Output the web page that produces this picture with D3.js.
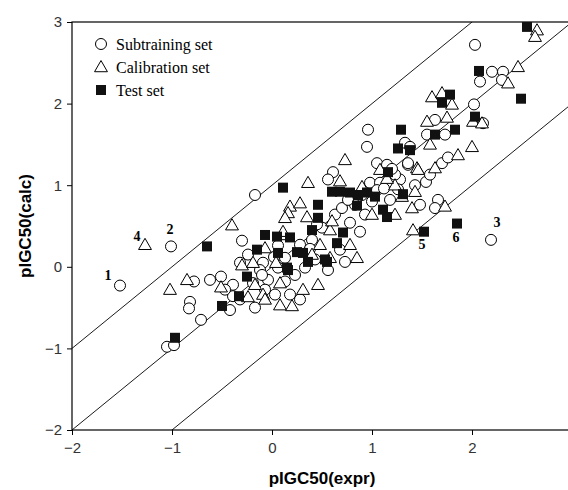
<!DOCTYPE html>
<html lang="en">
<head>
<meta charset="UTF-8" />
<title>pIGC50 calc vs expr</title>
<style>
  body { margin: 0; background: #fff; }
  svg { display: block; }
</style>
</head>
<body>
<div id="chart"></div>
<script src="https://cdn.jsdelivr.net/npm/d3@7/dist/d3.min.js"></script>
<script>
// Subtraining set (circles): [expr, calc]
var subtraining = [
  [-1.52,-0.23],[-1.01,0.25],[2.19,0.33],[-1.05,-0.98],[-0.98,-0.96],[-0.17,0.88],
  [-0.30,0.32],[-0.78,-0.18],[-0.62,-0.16],[-0.51,-0.12],[-0.82,-0.43],[-0.83,-0.51],
  [-0.71,-0.65],[-0.39,-0.36],[-0.17,-0.50],[-0.39,-0.22],[-0.32,0.05],[-0.09,0.05],
  [-0.04,-0.16],[-0.19,-0.20],[0.96,1.68],[0.95,1.47],[0.61,1.16],[0.56,1.07],
  [0.78,0.54],[0.73,0.06],[0.56,-0.04],[1.05,1.27],[1.15,1.25],[1.36,1.25],
  [0.98,1.03],[1.08,1.03],[1.05,0.94],[1.28,1.07],[2.03,2.72],[2.20,2.39],
  [2.31,2.39],[2.08,2.27],[2.30,2.29],[2.02,1.99],[2.11,1.76],[1.63,1.80],
  [1.55,1.62],[1.73,1.62],[1.33,1.52],[1.38,1.47],[1.36,1.27],[1.70,1.27],
  [1.76,1.34],[1.54,1.04],[1.66,0.82],[1.63,0.72],[-0.07,-0.28],[0.03,-0.34],
  [0.13,-0.18],[0.23,-0.10],[0.33,-0.01],[0.43,0.09],[0.28,0.27],[0.40,0.33],
  [0.50,0.48],[0.63,0.64],[0.83,0.76],[0.90,0.88],[1.18,0.82],[1.23,1.13],
  [1.43,1.00],[1.48,0.76],[0.13,0.11],[0.06,-0.01],[-0.12,-0.04],[-0.24,0.15],
  [0.18,-0.34],[0.28,-0.40],[0.68,0.21],[0.88,0.43],[0.93,0.64],[-0.42,-0.53],
  [-0.32,-0.40],[-0.47,-0.28],[1.58,1.13],[0.45,0.52],[0.70,0.72],[0.76,0.82],
  [1.12,0.96],[1.20,1.20],[0.02,0.12],[0.06,0.26],[-0.10,-0.10],[0.38,0.22],
  [1.00,0.80],[1.26,0.95]
];

// Calibration set (triangles)
var calibration = [
  [-1.27,0.27],[1.41,0.45],[-0.40,0.51],[-1.02,-0.28],[-0.85,-0.16],[-0.51,-0.25],
  [-0.24,-0.37],[-0.30,0.02],[-0.19,0.05],[-0.09,-0.34],[0.08,-0.20],[0.11,0.39],
  [0.73,1.31],[0.68,1.05],[0.36,1.03],[0.18,0.74],[0.28,0.78],[0.35,0.61],
  [0.11,0.43],[0.16,0.66],[0.85,0.11],[0.13,0.60],[1.45,1.21],[1.43,0.92],
  [1.40,0.72],[2.65,2.90],[2.63,2.82],[2.46,2.45],[2.36,2.25],[1.60,2.08],
  [1.70,2.13],[1.80,1.99],[2.01,1.78],[2.10,1.76],[1.55,1.78],[1.75,1.83],
  [1.58,1.50],[2.00,1.47],[1.46,1.19],[1.63,1.21],[1.86,1.37],[1.73,0.74],
  [1.30,0.86],[-0.07,-0.40],[0.08,-0.47],[0.20,-0.48],[0.31,-0.28],[0.46,-0.22],
  [0.58,0.11],[0.48,0.27],[0.78,0.27],[1.00,0.64],[1.23,0.64],[-0.17,-0.22],
  [-0.07,0.23],[0.58,0.45],[1.23,1.00],[1.08,1.19],[0.60,0.56],[0.90,0.98],
  [0.40,0.15],[0.04,0.05],[1.15,1.08]
];

// Test set (filled squares)
var testSet = [
  [1.52,0.43],[1.85,0.53],[-0.97,-0.87],[-0.65,0.25],[-0.15,0.21],[-0.50,-0.48],
  [-0.33,-0.36],[-0.25,-0.12],[-0.07,0.39],[0.05,0.37],[0.06,0.17],[0.15,-0.01],
  [0.11,0.97],[0.60,0.92],[0.68,0.92],[0.78,0.91],[0.86,0.88],[0.95,0.91],
  [1.03,0.86],[0.46,0.76],[0.46,0.60],[0.25,0.18],[0.31,0.17],[0.36,0.06],
  [0.55,0.06],[0.65,0.29],[0.71,0.42],[0.16,-0.04],[1.11,0.70],[1.15,0.61],
  [1.16,1.16],[1.26,1.45],[1.38,1.43],[2.55,2.94],[2.07,2.40],[2.49,2.06],
  [1.78,2.11],[1.70,2.01],[2.03,1.84],[1.29,1.68],[1.63,1.62],[1.83,1.68],
  [1.31,0.89],[0.53,0.09],[0.18,0.36],[0.40,0.45],[0.85,0.75]
];

// numbered outliers: [label, x, y] position of the label in data units
var outlierLabels = [
  ["1", -1.64, -0.16], ["2", -1.02, 0.40], ["3", 2.25, 0.49],
  ["4", -1.35, 0.32], ["5", 1.50, 0.22], ["6", 1.84, 0.31]
];

// y = x + offset
var diagOffsets = [1, 0, -1];

var xTicks = [-2, -1, 0, 1, 2, 3];
var yTicks = [-2, -1, 0, 1, 2, 3];

var legendItems = ["Subtraining set", "Calibration set", "Test set"];

///////////////////////////////////////////////////////////////
var width = 568, height = 490;

var x = d3.scaleLinear().domain([-2, 3]).range([72, 572]);
var y = d3.scaleLinear().domain([-2, 3]).range([430, 22]);

var svg = d3.select("#chart").append("svg")
  .attr("width", width)
  .attr("height", height);

svg.append("defs").append("clipPath").attr("id", "plotClip")
  .append("rect")
  .attr("x", x(-2)).attr("y", y(3))
  .attr("width", x(3) - x(-2)).attr("height", y(-2) - y(3));

// frame
svg.append("rect")
  .attr("x", x(-2)).attr("y", y(3))
  .attr("width", x(3) - x(-2)).attr("height", y(-2) - y(3))
  .attr("fill", "none").attr("stroke", "#000").attr("stroke-width", 1.2);

// axes
var tickFont = "Arial, 'Liberation Sans', sans-serif";
var xAxis = svg.append("g")
  .attr("transform", "translate(0," + y(-2) + ")")
  .call(d3.axisBottom(x).tickValues(xTicks).tickSize(5).tickPadding(7).tickFormat(d3.format("d")));
var yAxis = svg.append("g")
  .attr("transform", "translate(" + x(-2) + ",0)")
  .call(d3.axisLeft(y).tickValues(yTicks).tickSize(5).tickPadding(5).tickFormat(d3.format("d")));
[xAxis, yAxis].forEach(function(a) {
  a.select(".domain").remove();
  a.selectAll("line").attr("stroke", "#000");
  a.selectAll("text").attr("fill", "#333")
    .style("font-family", tickFont).style("font-size", "15px");
});

// diagonal lines
var lineG = svg.append("g").attr("clip-path", "url(#plotClip)");
lineG.selectAll("line.diag")
  .data(diagOffsets)
  .enter().append("line")
  .attr("class", "diag")
  .attr("x1", x(-3)).attr("y1", function(d) { return y(-3 + d); })
  .attr("x2", x(4)).attr("y2", function(d) { return y(4 + d); })
  .attr("stroke", "#000").attr("stroke-width", 0.9);

// points
var pts = svg.append("g").attr("clip-path", "url(#plotClip)");
var triPath = d3.symbol().type(d3.symbolTriangle).size(72);

pts.selectAll("circle.sub")
  .data(subtraining)
  .enter().append("circle")
  .attr("class", "sub")
  .attr("cx", function(d) { return x(d[0]); })
  .attr("cy", function(d) { return y(d[1]); })
  .attr("r", 5.5)
  .attr("fill", "#fff").attr("stroke", "#000").attr("stroke-width", 1);

pts.selectAll("path.cal")
  .data(calibration)
  .enter().append("path")
  .attr("class", "cal")
  .attr("d", triPath)
  .attr("transform", function(d) { return "translate(" + x(d[0]) + "," + (y(d[1]) + 1) + ")"; })
  .attr("fill", "#fff").attr("stroke", "#000").attr("stroke-width", 1);

pts.selectAll("rect.test")
  .data(testSet)
  .enter().append("rect")
  .attr("class", "test")
  .attr("x", function(d) { return x(d[0]) - 5; })
  .attr("y", function(d) { return y(d[1]) - 5; })
  .attr("width", 10).attr("height", 10)
  .attr("fill", "#111");

// outlier numbers
svg.selectAll("text.num")
  .data(outlierLabels)
  .enter().append("text")
  .attr("class", "num")
  .attr("x", function(d) { return x(d[1]); })
  .attr("y", function(d) { return y(d[2]); })
  .attr("text-anchor", "middle")
  .style("font-family", "'Times New Roman', 'Liberation Serif', serif")
  .style("font-weight", "bold")
  .style("font-size", "14px")
  .text(function(d) { return d[0]; });

// legend
var legend = svg.append("g").attr("transform", "translate(101,44)");
var serif = "'Times New Roman', 'Liberation Serif', serif";
legendItems.forEach(function(name, i) {
  var g = legend.append("g").attr("transform", "translate(0," + (i * 23) + ")");
  if (i === 0) {
    g.append("circle").attr("r", 5.5).attr("fill", "#fff").attr("stroke", "#000");
  } else if (i === 1) {
    g.append("path").attr("d", triPath).attr("transform", "translate(0,1)")
      .attr("fill", "#fff").attr("stroke", "#000");
  } else {
    g.append("rect").attr("x", -5).attr("y", -5).attr("width", 10).attr("height", 10).attr("fill", "#111");
  }
  g.append("text")
    .attr("x", 15).attr("y", 5.5)
    .style("font-family", serif).style("font-size", "16px")
    .text(name);
});

// axis titles
svg.append("text")
  .attr("x", 322).attr("y", 484)
  .attr("text-anchor", "middle")
  .style("font-family", tickFont).style("font-weight", "bold").style("font-size", "17px")
  .text("pIGC50(expr)");

svg.append("text")
  .attr("transform", "translate(31,226) rotate(-90)")
  .attr("text-anchor", "middle")
  .style("font-family", tickFont).style("font-weight", "bold").style("font-size", "17px")
  .text("pIGC50(calc)");
</script>
</body>
</html>
